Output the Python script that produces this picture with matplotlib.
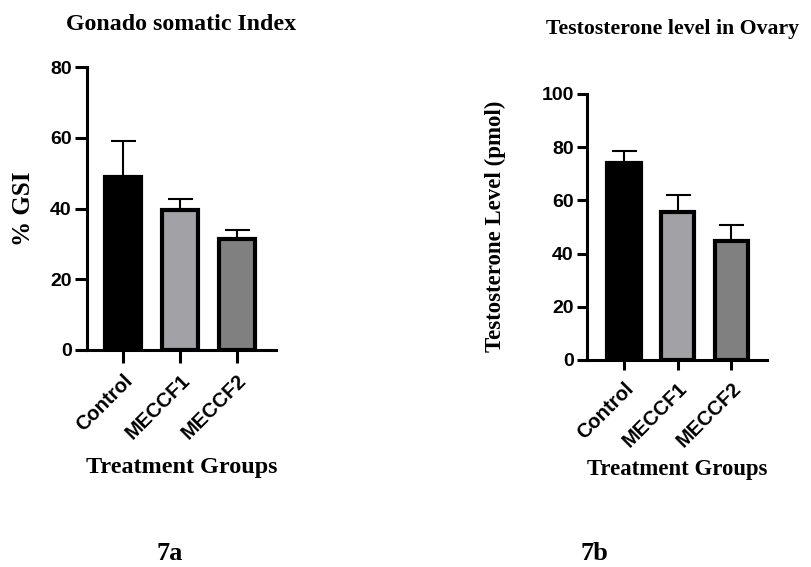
import matplotlib
matplotlib.use("Agg")
import matplotlib.pyplot as plt
import numpy as np

groups = ["Control", "MECCF1", "MECCF2"]
gsi_mean = [48.8, 39.5, 31.4]
gsi_err = [10.4, 3.2, 2.6]
testo_mean = [74.2, 55.7, 44.8]
testo_err = [4.2, 6.5, 5.8]
bar_colors = ["#000000", "#a2a2a6", "#808080"]

serif = "Liberation Serif"
sans = "Liberation Sans"

fig = plt.figure(figsize=(8.11, 5.67), dpi=100)

def make(ax, means, errs, ylim, yticks, xlim, title, ylabel, title_xy, title_fs,
         ylabel_xy, ylabel_fs, xlabel_xy, xlabel_fs, panel_xy, panel, tick_len):
    x = np.arange(len(groups))
    ax.bar(x, means, width=0.62, color=bar_colors, edgecolor="black", linewidth=3, zorder=2)
    ax.errorbar(x, means, yerr=[np.zeros(len(errs)), errs], fmt="none", ecolor="black",
                elinewidth=1.5, capsize=9, capthick=1.5, zorder=1)
    ax.set_ylim(*ylim)
    ax.set_xlim(*xlim)
    ax.set_yticks(yticks)
    ax.set_xticks(x)
    ax.set_xticklabels(groups, rotation=45, ha="right", va="top", rotation_mode="anchor",
                       fontfamily=sans, fontweight="bold", fontsize=14.5)
    for lab in ax.get_yticklabels():
        lab.set_fontfamily(sans); lab.set_fontweight("bold"); lab.set_fontsize(14)
    for s in ["top", "right"]:
        ax.spines[s].set_visible(False)
    for s in ["left", "bottom"]:
        ax.spines[s].set_linewidth(2.2)
    ax.tick_params(axis="both", width=2.2, length=tick_len, pad=2)
    ax.tick_params(axis="x", pad=6)
    fig.text(title_xy[0], title_xy[1], title, ha="center", va="center",
             fontfamily=serif, fontweight="bold", fontsize=title_fs)
    fig.text(ylabel_xy[0], ylabel_xy[1], ylabel, ha="center", va="center", rotation=90,
             fontfamily=serif, fontweight="bold", fontsize=ylabel_fs)
    fig.text(xlabel_xy[0], xlabel_xy[1], "Treatment Groups", ha="center", va="center",
             fontfamily=serif, fontweight="bold", fontsize=xlabel_fs)
    fig.text(panel_xy[0], panel_xy[1], panel, ha="center", va="center",
             fontfamily=serif, fontweight="bold", fontsize=19)

W, H = 811, 567
ax1 = fig.add_axes([87 / W, 1 - 350 / H, 189 / W, 283 / H])
make(ax1, gsi_mean, gsi_err, (0, 80), [0, 20, 40, 60, 80], (-0.632, 2.684),
     "Gonado somatic Index", "% GSI",
     (181 / W, 1 - 25 / H), 17.2, (24 / W, 1 - 209 / H), 18,
     (182 / W, 1 - 467 / H), 17.4, (170 / W, 1 - 554 / H), "7a", 9)

ax2 = fig.add_axes([587 / W, 1 - 360 / H, 180 / W, 266 / H])
make(ax2, testo_mean, testo_err, (0, 100), [0, 20, 40, 60, 80, 100], (-0.69, 2.67),
     "Testosterone level in Ovary", "Testosterone Level (pmol)",
     (672 / W, 1 - 29 / H), 15.7, (495 / W, 1 - 226 / H), 16.5,
     (677 / W, 1 - 470 / H), 16.4, (594 / W, 1 - 554 / H), "7b", 7.5)

fig.savefig("out.png", dpi=100)
